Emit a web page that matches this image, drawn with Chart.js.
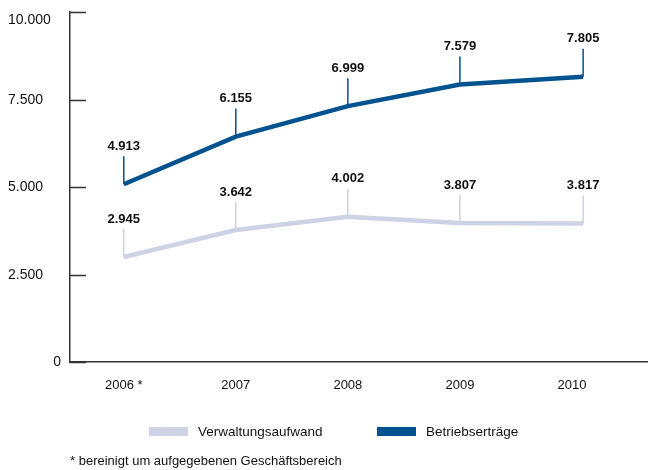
<!DOCTYPE html>
<html>
<head>
<meta charset="utf-8">
<script src="https://cdn.jsdelivr.net/npm/chart.js@4"></script>
<style>
  body { margin: 0; background: #fff; }
  #wrap { width: 648px; height: 470px; position: relative; }
</style>
</head>
<body>
<div id="wrap"><canvas id="chart"></canvas></div>
<script>
const years = [2006, 2007, 2008, 2009, 2010];
// x positions where the points sit in the picture (2010 is drawn slightly right of its label)
const pointYears = [2006, 2007, 2008, 2009, 2010.1];

// drawn line heights
const betriebsertraege = [5080, 6440, 7310, 7930, 8150];
const verwaltungsaufwand = [3000, 3770, 4150, 3970, 3960];

// printed value labels
const betriebsertraegeLabels = ['4.913', '6.155', '6.999', '7.579', '7.805'];
const verwaltungsaufwandLabels = ['2.945', '3.642', '4.002', '3.807', '3.817'];

const yTicks = [0, 2500, 5000, 7500, 10000];
const footnote = '* bereinigt um aufgegebenen Geschäftsbereich';

const BLUE = '#02528f';
const GREY = '#cdd2e4';
const AXIS = '#333333';
const FONT = "'Liberation Sans', Arial, sans-serif";

Chart.defaults.font.family = FONT;
Chart.defaults.color = '#111';

const toPoints = (vals) => pointYears.map((x, i) => ({ x: x, y: vals[i] }));

// y labels, inner tick marks, value labels with stems, legend and footnote
const extras = {
  id: 'extras',
  afterDatasetsDraw(chart) {
    const ctx = chart.ctx;
    const area = chart.chartArea;
    const yScale = chart.scales.y;

    ctx.save();
    ctx.strokeStyle = AXIS;
    ctx.lineWidth = 1.5;
    ctx.font = '14px ' + FONT;
    ctx.textBaseline = 'middle';
    yTicks.forEach(v => {
      const py = Math.round(yScale.getPixelForValue(v)) + 0.5;
      ctx.beginPath();
      ctx.moveTo(area.left, py);
      ctx.lineTo(area.left + 16, py);
      ctx.stroke();
      ctx.fillStyle = '#111';
      const txt = v.toLocaleString('de-DE');
      if (v === 0) {
        ctx.textAlign = 'right';
        ctx.fillText(txt, area.left - 9, py);
      } else {
        ctx.textAlign = 'left';
        ctx.fillText(txt, 8, Math.max(py, area.top + 8));
      }
    });

    // stems and value labels
    chart.data.datasets.forEach((ds, di) => {
      const meta = chart.getDatasetMeta(di);
      meta.data.forEach((pt, i) => {
        ctx.strokeStyle = ds.borderColor;
        ctx.lineWidth = 1.5;
        ctx.beginPath();
        ctx.moveTo(pt.x, pt.y);
        ctx.lineTo(pt.x, pt.y - 28);
        ctx.stroke();
        ctx.fillStyle = '#111';
        ctx.font = 'bold 13px ' + FONT;
        ctx.textAlign = 'center';
        ctx.textBaseline = 'middle';
        ctx.fillText(ds.valueLabels[i], pt.x, pt.y - 38);
      });
    });

    // legend
    const legendItems = [
      { ds: chart.data.datasets[1], x: 149 },
      { ds: chart.data.datasets[0], x: 377 }
    ];
    ctx.font = '13.5px ' + FONT;
    ctx.textAlign = 'left';
    ctx.textBaseline = 'middle';
    legendItems.forEach(item => {
      ctx.fillStyle = item.ds.borderColor;
      ctx.fillRect(item.x, 427, 39, 9);
      ctx.fillStyle = '#111';
      ctx.fillText(item.ds.label, item.x + 49, 432);
    });

    // footnote
    ctx.font = '13px ' + FONT;
    ctx.fillText(footnote, 70, 461);
    ctx.restore();
  }
};

new Chart(document.getElementById('chart'), {
  type: 'line',
  data: {
    datasets: [
      {
        label: 'Betriebserträge',
        data: toPoints(betriebsertraege),
        valueLabels: betriebsertraegeLabels,
        borderColor: BLUE,
        backgroundColor: BLUE,
        borderWidth: 4.5,
        pointRadius: 0,
        tension: 0
      },
      {
        label: 'Verwaltungsaufwand',
        data: toPoints(verwaltungsaufwand),
        valueLabels: verwaltungsaufwandLabels,
        borderColor: GREY,
        backgroundColor: GREY,
        borderWidth: 4.5,
        pointRadius: 0,
        tension: 0
      }
    ]
  },
  options: {
    responsive: true,
    maintainAspectRatio: false,
    animation: false,
    layout: { padding: { top: 12, left: 8, right: 1, bottom: 0 } },
    plugins: {
      legend: { display: false },
      tooltip: { enabled: false }
    },
    scales: {
      x: {
        type: 'linear',
        min: 2005.52,
        max: 2010.67,
        afterFit: (scale) => { scale.height = 108; },
        afterBuildTicks: (scale) => { scale.ticks = years.map(v => ({ value: v })); },
        grid: { display: false, drawTicks: false },
        border: { display: true, color: AXIS, width: 1.5 },
        ticks: {
          padding: 16,
          maxRotation: 0,
          autoSkip: false,
          font: { size: 13 },
          color: '#111',
          callback: (v) => v === 2006 ? '2006 *' : String(v)
        }
      },
      y: {
        min: 0,
        max: 10000,
        afterFit: (scale) => { scale.width = 62; },
        afterBuildTicks: (scale) => { scale.ticks = yTicks.map(v => ({ value: v })); },
        grid: { display: false, drawTicks: false },
        border: { display: true, color: AXIS, width: 1.5 },
        ticks: { display: false }
      }
    }
  },
  plugins: [extras]
});
</script>
</body>
</html>
